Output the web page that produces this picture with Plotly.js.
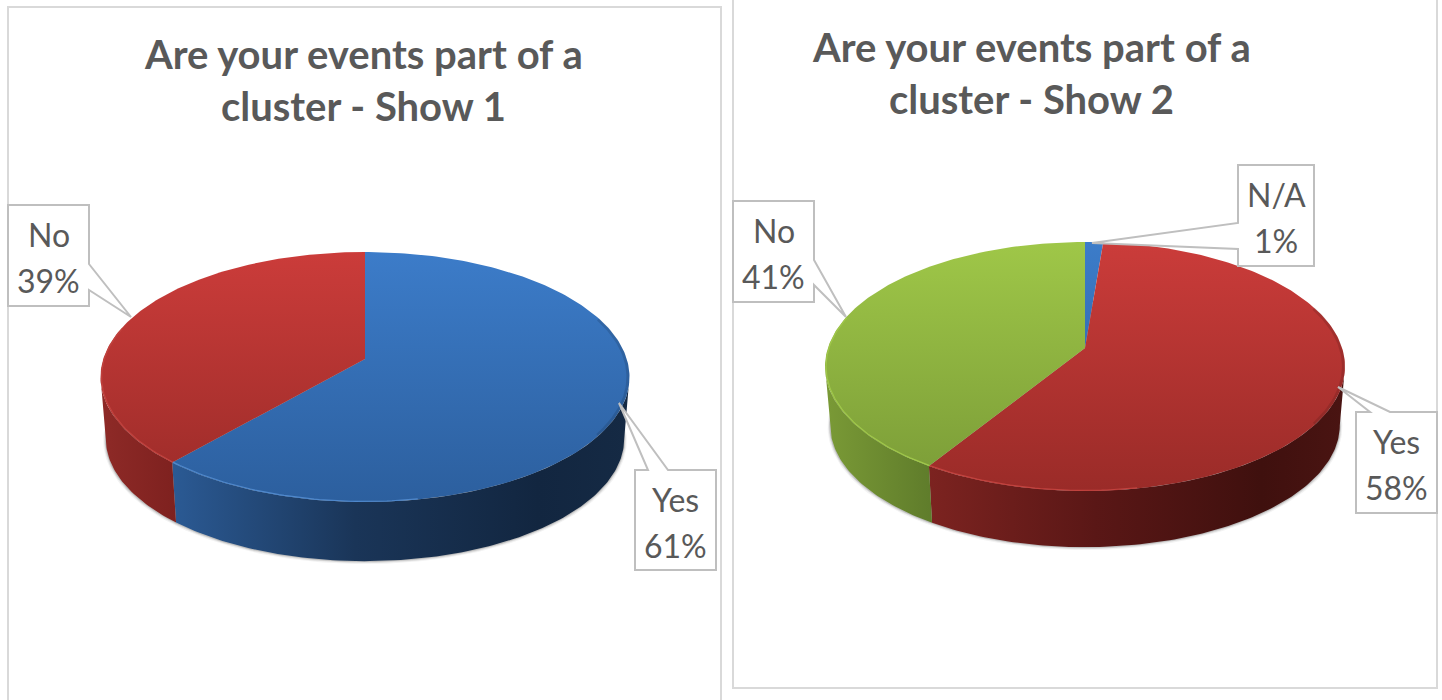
<!DOCTYPE html>
<html>
<head>
<meta charset="utf-8">
<script src="https://cdn.plot.ly/plotly-3.0.1.min.js"></script>
<style>html,body{margin:0;padding:0;background:#fff}#chart{width:1442px;height:700px}</style>
</head>
<body>
<div id="chart"></div>
<script>
// ---- data (slice sizes estimated; labels show whole percents) ----
const show1Title = ["Are your events part of a", "cluster - Show 1"];
const show1Labels = ["Yes", "No"];
const show1Values = [61.4, 38.6];
const show2Title = ["Are your events part of a", "cluster - Show 2"];
const show2Labels = ["N/A", "Yes", "No"];
const show2Values = [1.3, 57.6, 41.1];

// ---- styles ----
const TOP = {
  blue: ["#3C7CC9", "#2C5F9E"], red: ["#CB3C3A", "#9A2B28"], green: ["#9FC748", "#7A9B37"]
};
const RIM = {blue: "#4F88CC", red: "#C2423E", green: "#A0C84A"};
const TEXT = "#595959", BOX = "#BFBFBF", FRAME = "#D9D9D9";

// ---- layout of the two pies ----
const pie1 = {
  top: 252, bottom: 502, apex: 359, cx: 365, rx: 264.5, wallY: 421, wallScale: 0.98,
  colors: ["blue", "red"],
  walls: [
    [[0, "#2B5A94"], [0.4, "#1A3558"], [0.8, "#122640"], [1, "#152A44"]],
    [[0, "#8E2A27"], [1, "#7E211F"]]
  ]
};
const pie2 = {
  top: 242, bottom: 491, apex: 348, cx: 1085, rx: 260, wallY: 407, wallScale: 0.98,
  colors: ["blue", "red", "green"],
  walls: [
    [[0, "#1A3558"], [1, "#1A3558"]],
    [[0, "#7C2320"], [0.4, "#5A1716"], [0.8, "#3F100E"], [1, "#4A1412"]],
    [[0, "#7A9A36"], [1, "#5F7C2B"]]
  ]
};
function geometry(p) {
  const d1 = p.bottom - p.apex, d2 = p.apex - p.top;
  const k = (d1 - d2) / (d1 + d2);
  p.k = k; p.a = d1 * (1 - k); p.A = p.rx * Math.sqrt(1 - k * k);
  return p;
}
function point(p, deg, wall, grow) {
  const t = deg * Math.PI / 180, u = Math.sin(t), v = -Math.cos(t), w = 1 - p.k * v;
  const s = (wall ? p.wallScale : 1) * (grow || 1);
  return [p.cx + s * p.A * u / w, (wall ? p.wallY : p.apex) + s * p.a * v / w];
}
function arc(p, d0, d1, wall, grow) {
  const n = Math.max(2, Math.ceil(Math.abs(d1 - d0))), out = [];
  for (let i = 0; i <= n; i++) out.push(point(p, d0 + (d1 - d0) * i / n, wall, grow));
  return out;
}
function poly(pts, extra) {
  return Object.assign({
    x: pts.map(q => q[0]), y: pts.map(q => q[1]), type: "scatter", mode: "lines",
    line: {width: 0}, hoverinfo: "skip", showlegend: false
  }, extra);
}
function scale2(c) { return [[0, c[0]], [1, c[1]]]; }

function pieTraces(pIn, values, labels) {
  const p = geometry(pIn), traces = [];
  const total = values.reduce((a, b) => a + b, 0);
  // soft shadow
  [[1.010, 1.5, 0.05], [1.006, 1, 0.09], [1.003, 0.5, 0.14]].forEach(s => {
    const pts = arc(p, 0, 360, true, s[0]).map(q => [q[0], q[1] + s[1]]);
    traces.push(poly(pts, {fill: "toself", fillcolor: `rgba(0,0,0,${s[2]})`}));
  });
  const visA = Math.acos(-p.k) * 180 / Math.PI, visB = 360 - visA;
  let acc = 0; const spans = [];
  values.forEach(val => { spans.push([acc / total * 360, (acc + val) / total * 360]); acc += val; });
  // outer walls
  spans.forEach((sp, i) => {
    const d0 = Math.max(sp[0], visA), d1 = Math.min(sp[1], visB);
    if (d1 <= d0) return;
    const topArc = arc(p, d0, d1, false), botArc = arc(p, d1, d0, true);
    const pts = topArc.concat(botArc); pts.push(topArc[0]);
    const xs = pts.map(q => q[0]);
    traces.push(poly(pts, {
      name: labels[i] + " wall", fill: "toself",
      fillgradient: {type: "horizontal", colorscale: p.walls[i], start: Math.min(...xs), stop: Math.max(...xs)}
    }));
  });
  // top slices
  spans.forEach((sp, i) => {
    const edge = arc(p, sp[0], sp[1], false);
    const centre = [p.cx, p.apex];
    const pts = [centre].concat(edge); pts.push(centre);
    traces.push(poly(pts, {
      name: labels[i], fill: "toself",
      fillgradient: {type: "vertical", colorscale: scale2(TOP[p.colors[i]]), start: p.top, stop: p.bottom}
    }));
  });
  // bevel: dark on the right, light on the lower left
  traces.push(poly(arc(p, 70, 125, false, 0.994), {line: {width: 3, color: "rgba(0,0,0,0.12)"}}));
  spans.forEach((sp, i) => {
    const d0 = Math.max(sp[0], 170), d1 = Math.min(sp[1], 285);
    if (d1 <= d0) return;
    traces.push(poly(arc(p, d0, d1, false, 0.996), {line: {width: 1.2, color: RIM[p.colors[i]]}}));
  });
  return traces;
}

// ---- callouts: box corners plus pointer, in page pixels ----
function callout(c) {
  return {
    type: "path", xref: "x", yref: "y", layer: "above",
    path: "M" + c.path.map(q => q.join(",")).join("L") + "Z",
    fillcolor: "#FFFFFF", line: {color: BOX, width: 2}
  };
}
const callouts1 = [
  {cx: 675.5, y1: 499, y2: 545, path: [[635,470],[648,470],[619,403],[668,470],[716,470],[716,570],[635,570]]},
  {cx: 48.5, y1: 234, y2: 280, path: [[8,205],[89,205],[89,264],[131,317],[89,290],[89,306],[8,306]]}
];
const callouts2 = [
  {cx: 1276, y1: 194, y2: 240, path: [[1238,165],[1314,165],[1314,266],[1238,266],[1238,249],[1092,243],[1238,223]]},
  {cx: 1396.5, y1: 441, y2: 487, path: [[1356,412],[1370,412],[1338,387],[1390,412],[1437,412],[1437,513],[1356,513]]},
  {cx: 773.5, y1: 230, y2: 276, path: [[733,201],[814,201],[814,260],[846,317],[814,285],[814,302],[733,302]]}
];
function labelNotes(cs, labels, values) {
  const out = [];
  cs.forEach((c, i) => {
    [[labels[i], c.y1], [Math.round(values[i]) + "%", c.y2]].forEach(t => out.push({
      x: c.cx, y: t[1], xref: "x", yref: "y", text: t[0], showarrow: false,
      xanchor: "center", yanchor: "middle",
      font: {family: "Lato, sans-serif", size: 32, color: TEXT}
    }));
  });
  return out;
}
function titleNotes(lines, cx, ys) {
  return lines.map((t, i) => ({
    x: cx, y: ys[i], xref: "x", yref: "y", text: "<b>" + t + "</b>", showarrow: false,
    xanchor: "center", yanchor: "middle",
    font: {family: "Lato, sans-serif", size: 40, color: TEXT}
  }));
}

const traces = pieTraces(pie1, show1Values, show1Labels).concat(pieTraces(pie2, show2Values, show2Labels));

const frames = [
  {type: "path", xref: "x", yref: "y", layer: "below", path: "M8,704L8,7L721,7L721,704", line: {color: FRAME, width: 2}},
  {type: "path", xref: "x", yref: "y", layer: "below", path: "M733,-4L733,688L1437,688L1437,-4", line: {color: FRAME, width: 2}}
];

const layout = {
  width: 1442, height: 700, margin: {l: 0, r: 0, t: 0, b: 0},
  paper_bgcolor: "#FFFFFF", plot_bgcolor: "#FFFFFF", showlegend: false, hovermode: false,
  xaxis: {range: [0, 1442], visible: false, fixedrange: true},
  yaxis: {range: [700, 0], visible: false, fixedrange: true},
  shapes: frames.concat(callouts1.map(callout), callouts2.map(callout)),
  annotations: titleNotes(show1Title, 363.5, [54, 106])
    .concat(titleNotes(show2Title, 1031.5, [47, 99]))
    .concat(labelNotes(callouts1, show1Labels, show1Values))
    .concat(labelNotes(callouts2, show2Labels, show2Values))
};
Plotly.newPlot("chart", traces, layout, {displayModeBar: false, staticPlot: true});
</script>
</body>
</html>
